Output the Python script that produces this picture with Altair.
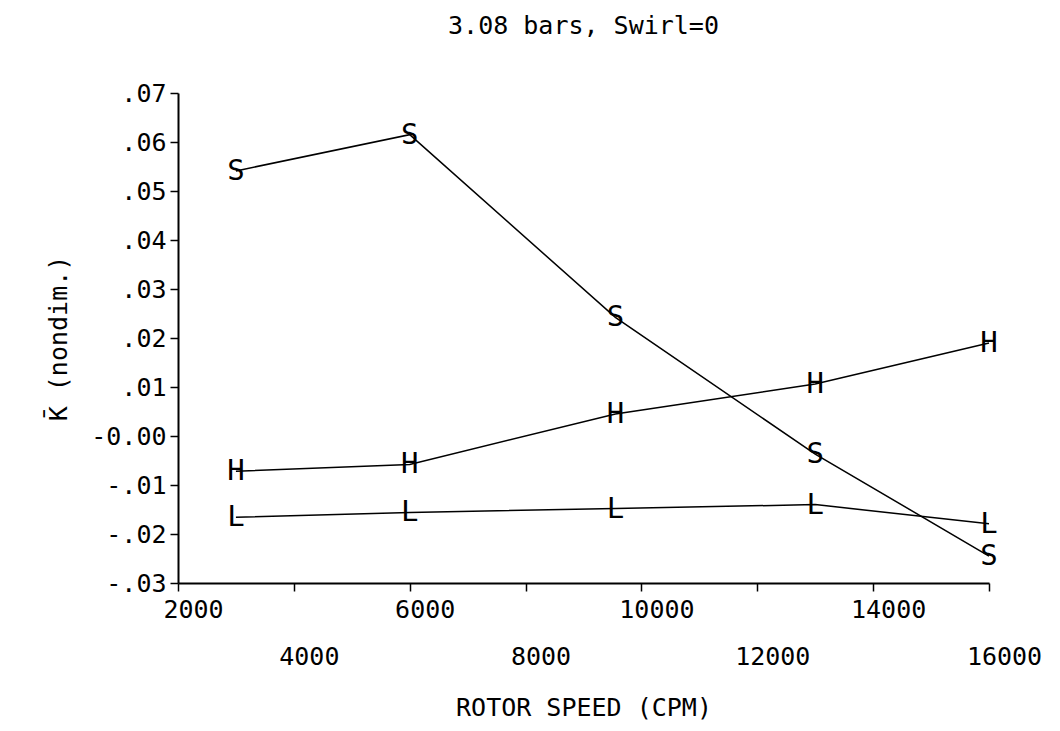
import altair as alt
import pandas as pd

# ---- data ----
rotor_speed = [3000, 6000, 9550, 13000, 16000]
series_s = [0.0541, 0.0615, 0.0242, -0.0037, -0.0245]
series_h = [-0.0072, -0.0058, 0.0045, 0.0106, 0.0190]
series_l = [-0.0166, -0.0156, -0.0148, -0.0140, -0.0179]
symbols = ["S", "H", "L"]

x_ticks = [2000, 4000, 6000, 8000, 10000, 12000, 14000, 16000]
y_ticks = [-0.03, -0.02, -0.01, 0.0, 0.01, 0.02, 0.03, 0.04, 0.05, 0.06, 0.07]
y_labels = ["-.03", "-.02", "-.01", "-0.00", ".01", ".02", ".03", ".04", ".05", ".06", ".07"]

rows = []
for sym, vals in zip(symbols, [series_s, series_h, series_l]):
    for xv, yv in zip(rotor_speed, vals):
        rows.append({"speed": xv, "k": yv, "series": sym})
df = pd.DataFrame(rows)

FONT = "DejaVu Sans Mono"

label_array = "[" + ",".join("'" + s + "'" for s in y_labels) + "]"
y_label_expr = label_array + "[round(datum.value*100)+3]"

x_enc = alt.X(
    "speed:Q",
    scale=alt.Scale(domain=[2000, 16000], nice=False, zero=False),
    axis=alt.Axis(
        values=x_ticks,
        format="d",
        title="ROTOR SPEED (CPM)",
        titleFont=FONT,
        titleFontSize=25,
        titleFontWeight="normal",
        titleColor="black",
        titleY=132,
        titleBaseline="alphabetic",
        labelFont=FONT,
        labelFontSize=25,
        labelColor="black",
        labelOffset=15,
        labelPadding={"condition": {"test": "datum.value % 4000 === 0", "value": 53}, "value": 6},
        labelOverlap=False,
        labelFlush=False,
        tickSize=8,
        tickColor="black",
        tickWidth=1.5,
        domainColor="black",
        domainWidth=2,
        grid=False,
    ),
)

y_enc = alt.Y(
    "k:Q",
    scale=alt.Scale(domain=[-0.03, 0.07], nice=False, zero=False),
    axis=alt.Axis(
        values=y_ticks,
        labelExpr=y_label_expr,
        title="K\u0304 (nondim.)",
        titleFont=FONT,
        titleFontSize=25,
        titleFontWeight="normal",
        titleColor="black",
        titleX=-120,
        titleY=245,
        titleAngle=270,
        titleAlign="center",
        titleBaseline="middle",
        labelFont=FONT,
        labelFontSize=25,
        labelColor="black",
        labelPadding=4,
        labelOverlap=False,
        labelFlush=False,
        tickSize=8,
        tickColor="black",
        tickWidth=1.5,
        domainColor="black",
        domainWidth=2,
        grid=False,
    ),
)

lines = alt.Chart(df).mark_line(color="black", strokeWidth=1.5).encode(
    x=x_enc, y=y_enc, detail="series:N"
)

markers = alt.Chart(df).mark_text(
    font=FONT, fontSize=29, color="black", align="center", baseline="middle"
).encode(
    x=alt.X("speed:Q"), y=alt.Y("k:Q"), text="series:N"
)

chart = (
    alt.layer(lines, markers)
    .properties(
        width=811,
        height=490,
        title=alt.TitleParams(
            "3.08 bars, Swirl=0",
            font=FONT,
            fontSize=25,
            fontWeight="normal",
            color="black",
            anchor="middle",
            frame="group",
            offset=42,
        ),
        autosize=alt.AutoSizeParams(type="none"),
        padding={"left": 170, "top": 85, "right": 60, "bottom": 140},
        background="white",
    )
    .configure_view(stroke=None)
)

chart.save("out.html", embed_options={"renderer": "svg", "actions": False})
